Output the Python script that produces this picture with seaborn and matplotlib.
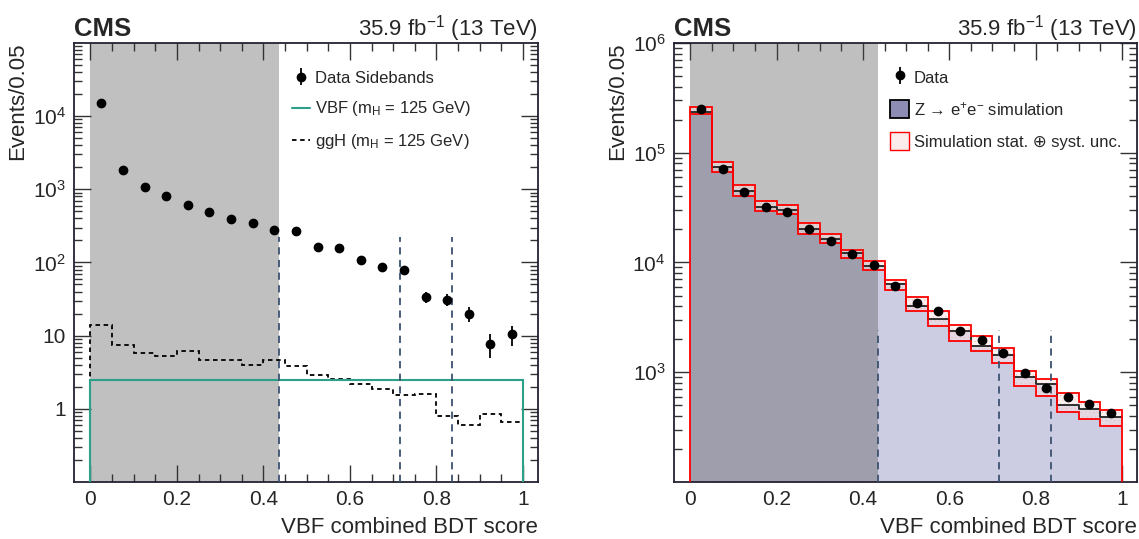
import numpy as np
import pandas as pd
import seaborn as sns
import matplotlib.pyplot as plt
from matplotlib.ticker import FixedLocator, LogLocator, NullFormatter, FuncFormatter
from matplotlib.patches import Patch
from matplotlib.lines import Line2D

# binning of the VBF combined BDT score (20 bins of 0.05)
bin_edges = [round(0.05 * i, 2) for i in range(21)]
bin_centers = [round(0.05 * i + 0.025, 3) for i in range(20)]

# left panel: data sidebands and signal templates
data_sidebands = [14900, 1850, 1090, 800, 615, 495, 390, 343, 280, 265,
                  165, 160, 108, 86, 78, 34, 31, 20, 7.8, 10.5]
vbf_signal = [2.47] * 20
ggh_signal = [13.8, 7.5, 5.7, 5.25, 6.2, 4.7, 4.7, 3.95, 4.6, 3.8,
              2.9, 2.57, 2.17, 1.88, 1.52, 1.57, 0.81, 0.6, 0.84, 0.66]

# right panel: Z -> ee data and simulation with uncertainty band
data_zee = [248000, 70600, 43600, 31700, 28700, 20000, 15700, 12000, 9400, 6140,
            4280, 3620, 2360, 1980, 1490, 990, 714, 592, 515, 428]
sim_zee = [236000, 73600, 45200, 32200, 30200, 20300, 16400, 12100, 9380, 6400,
           4040, 3040, 2380, 1750, 1430, 904, 782, 508, 464, 393]
sim_up = [261000, 82200, 50800, 36000, 33500, 22700, 18100, 13000, 10300, 6860,
          4810, 3590, 2680, 2140, 1650, 1025, 874, 653, 537, 457]
sim_down = [227000, 66300, 40200, 29200, 27400, 18300, 15100, 10900, 8570, 5650,
            3610, 2620, 1940, 1550, 1210, 742, 601, 431, 372, 324]

# category boundaries and training region
sideband_cut = 0.435
category_bounds = [0.435, 0.715, 0.835]

hists = pd.DataFrame({"score": bin_centers, "sim": sim_zee})

sns.set_theme(style="ticks")
plt.rcParams["font.family"] = ["Liberation Sans", "DejaVu Sans"]
plt.rcParams["mathtext.fontset"] = "custom"
plt.rcParams["mathtext.rm"] = "Liberation Sans"
plt.rcParams["mathtext.it"] = "Liberation Sans:italic"
plt.rcParams["mathtext.bf"] = "Liberation Sans:bold"
plt.rcParams["hatch.linewidth"] = 0.6

fig = plt.figure(figsize=(11.39, 5.39), dpi=100)
ax1 = fig.add_axes([0.065, 0.1058, 0.4074, 0.8145])
ax2 = fig.add_axes([0.5917, 0.1058, 0.4065, 0.8145])

NAVY = "#3d5270"
TEAL = "#2ca089"


def log_label(v, pos):
    if v == 1:
        return "1"
    if v == 10:
        return "10"
    return r"$10^{%d}$" % int(round(np.log10(v)))


def cms_style(ax, ymin, ymax, majors):
    ax.set_xlim(-0.038, 1.035)
    ax.set_ylim(ymin, ymax)
    ax.xaxis.set_major_locator(FixedLocator([0, 0.2, 0.4, 0.6, 0.8, 1.0]))
    ax.xaxis.set_minor_locator(FixedLocator(np.arange(0, 1.001, 0.05)))
    ax.xaxis.set_major_formatter(FuncFormatter(lambda v, p: "0" if v == 0 else ("1" if v == 1 else f"{v:.1f}")))
    ax.yaxis.set_major_locator(FixedLocator(majors))
    ax.yaxis.set_minor_locator(LogLocator(base=10, subs=np.arange(2, 10), numticks=20))
    ax.yaxis.set_major_formatter(FuncFormatter(log_label))
    ax.yaxis.set_minor_formatter(NullFormatter())
    ax.tick_params(which="both", direction="in", top=True, right=True,
                   labelsize=15, width=1, color="#333333")
    ax.tick_params(which="major", length=12, pad=6)
    ax.tick_params(which="minor", length=6)
    for s in ax.spines.values():
        s.set_linewidth(1.3)
        s.set_color("#222233")
    ax.set_xlabel("VBF combined BDT score", fontsize=16, loc="right")
    ax.xaxis.set_label_coords(1.0, -0.08)
    ax.set_ylabel("Events/0.05", fontsize=16, loc="top")
    ax.yaxis.set_label_coords(-0.10, 1.0)
    ax.text(0.0, 1.016, "CMS", transform=ax.transAxes, fontsize=18.5, fontweight="bold",
            ha="left", va="baseline")
    ax.text(1.0, 1.016, r"35.9 fb$^{-1}$ (13 TeV)", transform=ax.transAxes, fontsize=16,
            ha="right", va="baseline")


# ---------------- left panel ----------------
ax1.set_yscale("log")
ax1.axvspan(0, sideband_cut, color="#c0c0c0", lw=0, zorder=0)
ax1.stairs(ggh_signal, bin_edges, baseline=0.1, color="black", linestyle=(0, (2.5, 2)),
           linewidth=1.3, zorder=2)
ax1.stairs(vbf_signal, bin_edges, baseline=0.1, color=TEAL, linewidth=1.5, zorder=3)
ax1.vlines(category_bounds, 0.1, 225, colors=NAVY, linestyles=(0, (4, 3)), lw=1.3, zorder=3)
eb1 = ax1.errorbar(bin_centers, data_sidebands, yerr=np.sqrt(data_sidebands), fmt="o",
                   color="black", ms=6, elinewidth=1.3, capsize=0, zorder=5)
cms_style(ax1, 0.1, 1e5, [1, 10, 100, 1e3, 1e4])

h_vbf = Line2D([], [], color=TEAL, lw=1.5)
h_ggh = Line2D([], [], color="black", lw=1.3, linestyle=(0, (2.5, 2)))
ax1.legend([eb1, h_vbf, h_ggh],
           ["Data Sidebands", r"VBF (m$_{\mathrm{H}}$ = 125 GeV)", r"ggH (m$_{\mathrm{H}}$ = 125 GeV)"],
           loc="upper left", bbox_to_anchor=(0.47, 0.937), frameon=False, fontsize=12,
           handlelength=1.1, handletextpad=0.3, labelspacing=0.83, borderpad=0, borderaxespad=0)

# ---------------- right panel ----------------
ax2.set_yscale("log")
sns.histplot(data=hists, x="score", weights="sim", bins=bin_edges, element="step", fill=True,
             color="#cccce2", alpha=1, linewidth=0, ax=ax2, zorder=1)
ax2.axvspan(0, sideband_cut, color="#4c4c4c", alpha=0.353, lw=0, zorder=1.5)
ax2.fill_between(bin_edges, sim_down + [sim_down[-1]], sim_up + [sim_up[-1]],
                 step="post", facecolor="#fbe6e6", edgecolor="#f3b4b4", hatch="....",
                 linewidth=0, alpha=0.5, zorder=2)
sns.histplot(data=hists, x="score", weights="sim", bins=bin_edges, element="step", fill=False,
             color="#222222", linewidth=1.3, ax=ax2, zorder=3)
ax2.stairs(sim_up, bin_edges, baseline=100, color="red", linewidth=1.3, zorder=3.5)
ax2.stairs(sim_down, bin_edges, baseline=None, color="red", linewidth=1.3, zorder=3.5)
ax2.vlines(category_bounds, 100, 2400, colors=NAVY, linestyles=(0, (4, 3)), lw=1.3, zorder=3.6)
eb2 = ax2.errorbar(bin_centers, data_zee, yerr=np.sqrt(data_zee), fmt="o",
                   color="black", ms=6, elinewidth=1.3, capsize=0, zorder=5)
cms_style(ax2, 100, 1e6, [1e3, 1e4, 1e5, 1e6])

h_sim = Patch(facecolor="#8c8cb5", edgecolor="black", linewidth=1.3)
h_unc = Patch(facecolor="#fcecec", edgecolor="red", linewidth=1.0)
ax2.legend([eb2, h_sim, h_unc],
           ["Data", "Z \u2192 e$^{+}$e$^{-}$ simulation", "Simulation stat. \u2295 syst. unc."],
           loc="upper left", bbox_to_anchor=(0.4665, 0.943), frameon=False, fontsize=12,
           handlelength=1.15, handleheight=1.3, handletextpad=0.3, labelspacing=0.82,
           borderpad=0, borderaxespad=0)

fig.savefig("out.png", dpi=100)
